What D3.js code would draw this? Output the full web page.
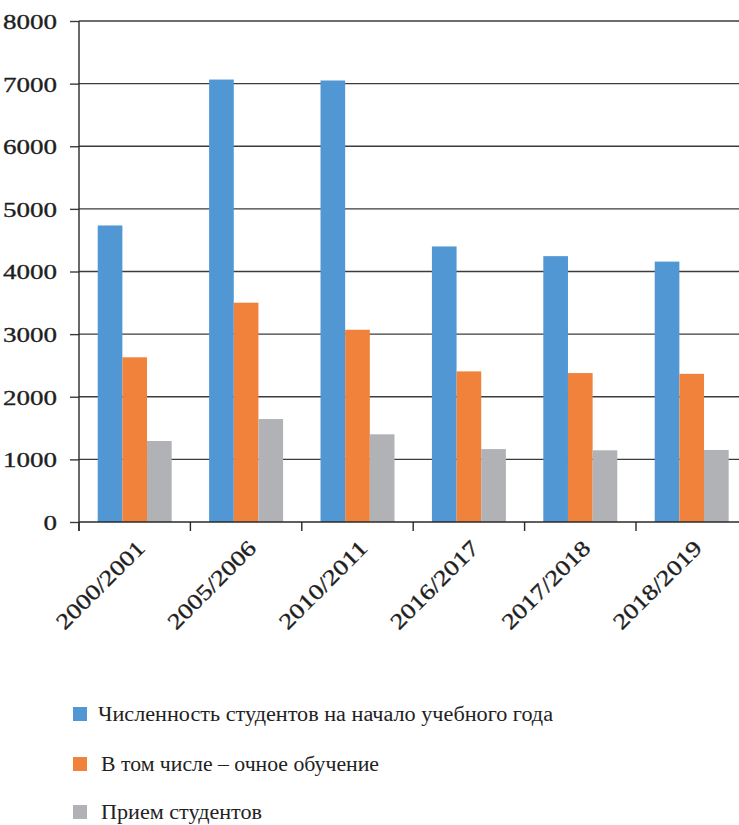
<!DOCTYPE html>
<html><head><meta charset="utf-8">
<script src="https://cdn.jsdelivr.net/npm/d3@7"></script>
<style>body{margin:0;background:#fff}svg{display:block}</style>
</head><body>
<script>
const categories = ["2000/2001","2005/2006","2010/2011","2016/2017","2017/2018","2018/2019"];
const seriesNames = ["Численность студентов на начало учебного года","В том числе – очное обучение","Прием студентов"];
const totalStudents = [4735, 7065, 7050, 4400, 4245, 4158];
const fullTime = [2630, 3502, 3070, 2405, 2378, 2366];
const admissions = [1293, 1644, 1400, 1164, 1145, 1150];
const yTicks = [0,1000,2000,3000,4000,5000,6000,7000,8000];
const colors = ["#5197d3","#f1823b","#b1b2b5"];

(function(){
const series = [totalStudents, fullTime, admissions];
const W = 739, H = 825;
const font = "'Liberation Serif', 'DejaVu Serif', serif";
const svg = d3.select("body").append("svg").attr("width", W).attr("height", H);

const pLeft = 79, pRight = 747.4, pTop = 21, pBottom = 522;
const pad = 0.336;
const x0 = d3.scaleBand().domain(categories).range([pLeft, pRight]).paddingInner(pad).paddingOuter(pad/2);
const x1 = d3.scaleBand().domain(d3.range(series.length)).range([0, x0.bandwidth()]);
const y = d3.scaleLinear().domain([0, 8000]).range([pBottom, pTop]);

// gridlines
svg.append("g").selectAll("line").data(yTicks.filter(d => d > 0)).join("line")
  .attr("x1", pLeft).attr("x2", W).attr("y1", d => y(d)).attr("y2", d => y(d))
  .attr("stroke", "#3c3c3c").attr("stroke-width", 1.4);

// bars
const g = svg.append("g");
categories.forEach((c, i) => {
  series.forEach((s, j) => {
    g.append("rect")
      .attr("x", x0(c) + x1(j)).attr("width", x1.bandwidth())
      .attr("y", y(s[i])).attr("height", y(0) - y(s[i]))
      .attr("fill", colors[j]);
  });
});

// y axis
const yAxis = d3.axisLeft(y).tickValues(yTicks).tickSize(9).tickPadding(13).tickFormat(d3.format("d"));
const ya = svg.append("g").attr("transform", `translate(${pLeft},0)`).call(yAxis);
ya.select(".domain").remove();
ya.selectAll("line").attr("stroke", "#3c3c3c").attr("stroke-width", 1.4);
ya.selectAll("text").attr("font-family", font).attr("font-size", 22).attr("fill", "#1e1e1e")
  .attr("dy", "0.34em").attr("textLength", d => String(d).length * 13.5).attr("lengthAdjust", "spacingAndGlyphs")
  .style("stroke", "#1e1e1e").style("stroke-width", 0.35);
svg.append("line").attr("x1", pLeft).attr("x2", pLeft).attr("y1", pTop).attr("y2", pBottom + 9)
  .attr("stroke", "#2a2a2a").attr("stroke-width", 1.4);
// baseline
svg.append("line").attr("x1", pLeft).attr("x2", W).attr("y1", pBottom).attr("y2", pBottom)
  .attr("stroke", "#2a2a2a").attr("stroke-width", 1.4);

// x ticks at category boundaries
const step = x0.step();
const bounds = categories.map(c => x0(c) - step * pad / 2).concat([pRight]);
svg.append("g").selectAll("line").data(bounds).join("line")
  .attr("x1", d => d).attr("x2", d => d).attr("y1", pBottom).attr("y2", pBottom + 9)
  .attr("stroke", "#2a2a2a").attr("stroke-width", 1.4);

// x labels
svg.append("g").selectAll("text").data(categories).join("text")
  .attr("transform", d => `translate(${x0(d) + x0.bandwidth()/2 + 6},${pBottom + 22}) rotate(-45)`)
  .attr("text-anchor", "end").attr("dy", "0.35em")
  .attr("font-family", font).attr("font-size", 22).attr("fill", "#1e1e1e")
  .attr("textLength", 115).attr("lengthAdjust", "spacingAndGlyphs")
  .style("stroke", "#1e1e1e").style("stroke-width", 0.35)
  .text(d => d);

// legend
const legY = [707, 757, 805];
const legX = [98, 101, 101];
const legLen = [455, 278, 161];
const lg = svg.append("g");
seriesNames.forEach((n, j) => {
  lg.append("rect").attr("x", 73).attr("y", legY[j]).attr("width", 14).attr("height", 14).attr("fill", colors[j]);
  lg.append("text").attr("x", legX[j]).attr("y", legY[j] + 14)
    .attr("font-family", font).attr("font-size", 20).attr("fill", "#222")
    .attr("textLength", legLen[j]).attr("lengthAdjust", "spacingAndGlyphs")
    .text(n);
});
})();
</script>
</body></html>
